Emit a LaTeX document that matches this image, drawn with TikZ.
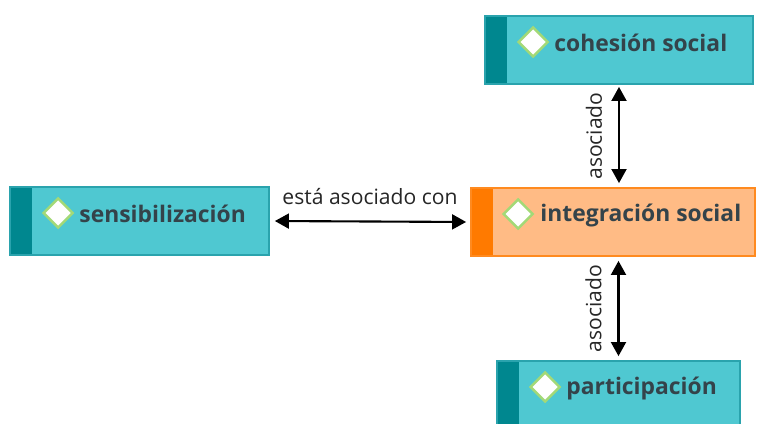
\documentclass[tikz,border=0pt]{standalone}
\usepackage{fontspec}
\setmainfont{Open Sans}
\usetikzlibrary{arrows.meta}
\usetikzlibrary{positioning}
\usetikzlibrary{calc}
\usetikzlibrary{shapes.geometric}

\definecolor{tealfill}{HTML}{4FC8D1}
\definecolor{tealdark}{HTML}{00878F}
\definecolor{tealline}{HTML}{2AA3AD}
\definecolor{orangefill}{HTML}{FFBB85}
\definecolor{orangedark}{HTML}{FF7A00}
\definecolor{orangeline}{HTML}{FF8A1F}
\definecolor{diamline}{HTML}{A3D977}
\definecolor{conceptink}{HTML}{34434A}

\tikzset{
  concept/.style={rectangle,draw=tealline,line width=1pt,fill=tealfill,minimum height=1.36cm,inner sep=0pt,
    path picture={\fill[tealdark] (path picture bounding box.south west) rectangle ([xshift=0.44cm]path picture bounding box.north west);}},
  focus/.style={concept,draw=orangeline,fill=orangefill,
    path picture={\fill[orangedark] (path picture bounding box.south west) rectangle ([xshift=0.44cm]path picture bounding box.north west);}},
  diam/.style={shape=diamond,draw=diamline,line width=1.4pt,fill=white,minimum width=0.6cm,minimum height=0.6cm,inner sep=0pt},
  conceptlabel/.style={anchor=west,font=\fontsize{13}{15}\selectfont\bfseries,text=conceptink,inner sep=0pt},
  link/.style={{Triangle[length=8pt,width=8.5pt]}-{Triangle[length=8pt,width=8.5pt]},line width=1.2pt,black},
  linklabel/.style={font=\fontsize{12}{14}\selectfont,text=black!85}
}

\begin{document}
\begin{tikzpicture}
\clip (0,0) rectangle (15.14,8.48);
\useasboundingbox (0,0) rectangle (15.14,8.48);

% conceptos
\node[concept,minimum width=5.36cm] (cohesion) at (12.38,7.48) {};
\node[concept,minimum width=5.18cm] (sensib) at (2.79,4.06) {};
\node[focus,minimum width=5.68cm] (integ) at (12.26,4.04) {};
\node[concept,minimum width=4.86cm] (partic) at (12.37,0.58) {};

\node[diam] (cohesiondiam) at ($(cohesion.west)+(0.98,0.16)$) {};
\node[diam] (sensibdiam) at ($(sensib.west)+(0.98,0.16)$) {};
\node[diam] (integdiam) at ($(integ.west)+(0.96,0.16)$) {};
\node[diam] (particdiam) at ($(partic.west)+(0.98,0.16)$) {};

\node[conceptlabel] (cohesiontxt) at ($(cohesion.west)+(1.40,0.14)$) {cohesión social};
\node[conceptlabel] (sensibtxt) at ($(sensib.west)+(1.40,0.14)$) {sensibilización};
\node[conceptlabel] (integtxt) at ($(integ.west)+(1.40,0.14)$) {integración social};
\node[conceptlabel] (partictxt) at ($(partic.west)+(1.40,0.14)$) {participación};

% relaciones
\draw[link,shorten <=0.08cm,shorten >=0.04cm] (cohesion.south |- integ.north) -- (cohesion.south)
  node[linklabel,midway,sloped,above=0.2cm] (rel1) {asociado};
\draw[link,shorten <=0.08cm,shorten >=0.08cm] (partic.north) -- (partic.north |- integ.south)
  node[linklabel,midway,sloped,above=0.2cm] (rel2) {asociado};
\draw[link,shorten <=0.1cm,shorten >=0.08cm] (sensib.east) -- (integ.west)
  node[linklabel,midway,above=0.2cm] (rel3) {está asociado con};

\end{tikzpicture}
\end{document}
